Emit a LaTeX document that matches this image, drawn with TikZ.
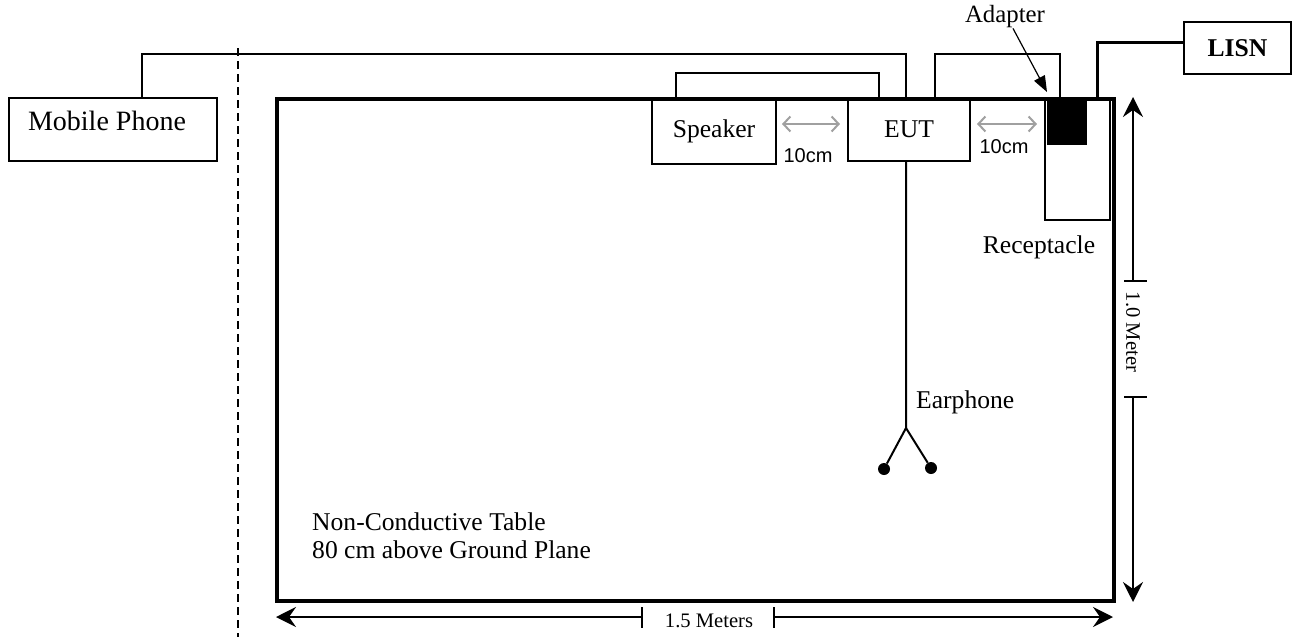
\documentclass[tikz,border=0pt]{standalone}
\usepackage{fontspec}
\setmainfont{Liberation Serif}
\newfontfamily\gapsans{Liberation Sans}
\usetikzlibrary{arrows.meta}
\definecolor{gapgray}{RGB}{160,160,160}

\begin{document}
\begin{tikzpicture}[x=1pt,y=-1pt,
  box/.style={draw,line width=2pt,inner sep=0pt,anchor=north west,font=\fontsize{25.6}{30}\selectfont},
  cable/.style={line width=2pt},
  dimline/.style={line width=2pt,-{Stealth[length=20pt,width=20pt,inset=7pt]}},
  gapline/.style={draw=gapgray,line width=2pt,{Straight Barb[length=7pt,width=15pt]}-{Straight Barb[length=7pt,width=15pt]}},
  tag/.style={inner sep=0pt,font=\fontsize{25.6}{30}\selectfont},
  small/.style={inner sep=0pt,font=\fontsize{20.6}{24}\selectfont},
  gaptag/.style={inner sep=0pt,font=\gapsans\fontsize{20}{24}\selectfont},
  bud/.style={circle,fill=black,inner sep=0pt,minimum size=12pt}]
\useasboundingbox (0,0) rectangle (1294,637);
\node[box,line width=4pt,minimum width=837pt,minimum height=502pt] (table) at (275,97) {};
\node[box,minimum width=208pt,minimum height=63pt] (phone) at (8,97) {};
\node[tag,font=\fontsize{28}{32}\selectfont] (phonelabel) at (107,121) {Mobile Phone};
\node[box,minimum width=124pt,minimum height=66pt] (speaker) at (651,97) {Speaker};
\node[box,minimum width=122pt,minimum height=63pt] (eut) at (847,97) {EUT};
\node[box,minimum width=65pt,minimum height=122pt] (recept) at (1044,97) {};
\node[box,fill=black,minimum width=38pt,minimum height=46pt] (adapter) at (1047,97) {};
\node[box,minimum width=107pt,minimum height=52pt] (lisn) at (1183,21) {\bfseries LISN};

\draw[cable] ([xshift=25pt]speaker.north west) -- ++(0,-24) -| ([xshift=32pt]eut.north west);
\draw[cable] ([xshift=134pt]phone.north west) -- ++(0,-43) -| ([xshift=59pt]eut.north west);
\draw[cable] ([xshift=88pt]eut.north west) -- ++(0,-43) -| ([xshift=13pt]adapter.north west);
\draw[line width=3pt] ([xshift=53pt]recept.north west) |- ([yshift=6pt]lisn.west);

\coordinate (split) at (906,428);
\node[bud] (budL) at (884,469) {};
\node[bud] (budR) at (931,468) {};
\draw[cable] (eut.south -| split) -- (split) -- (budL);
\draw[cable] (split) -- (budR);
\node[tag,anchor=base west] (earlabel) at (916,408) {Earphone};

\draw[gapline] (782,124) -- (840,124);
\draw[gapline] (977,124) -- (1037,124);
\node[gaptag] (gapleft) at (808,156) {10cm};
\node[gaptag] (gapright) at (1004,147) {10cm};

\node[tag,font=\fontsize{24.8}{28}\selectfont] (adlabel) at (1005,17) {Adapter};
\draw[line width=1.2pt,-{Triangle[length=16pt,width=12pt]}] ([xshift=8pt]adlabel.south) -- ([yshift=5pt]adapter.north west);
\node[tag,anchor=base] (receptlabel) at (1039,253) {Receptacle};

\node[tag,anchor=base west] (tablenote) at (312,530) {Non-Conductive Table};
\node[tag,anchor=base west] (tableheight) at (312,558) {80 cm above Ground Plane};

\draw[dimline] (1133,281) -- (1133,97);
\draw[cable] (1124,281) -- (1147,281);
\draw[dimline] (1133,397) -- (1133,602);
\draw[cable] (1124,397) -- (1147,397);
\node[small,rotate=-90] (depthlabel) at (1133,332) {1.0 Meter};

\draw[dimline] (642,617) -- (276,617);
\draw[cable] (642,607) -- (642,628);
\draw[dimline] (774,617) -- (1113,617);
\draw[cable] (774,607) -- (774,628);
\node[small] (widthlabel) at (709,621) {1.5 Meters};

\draw[line width=2pt,dash pattern=on 8pt off 5pt] (238,48) -- (238,637);
\end{tikzpicture}
\end{document}
